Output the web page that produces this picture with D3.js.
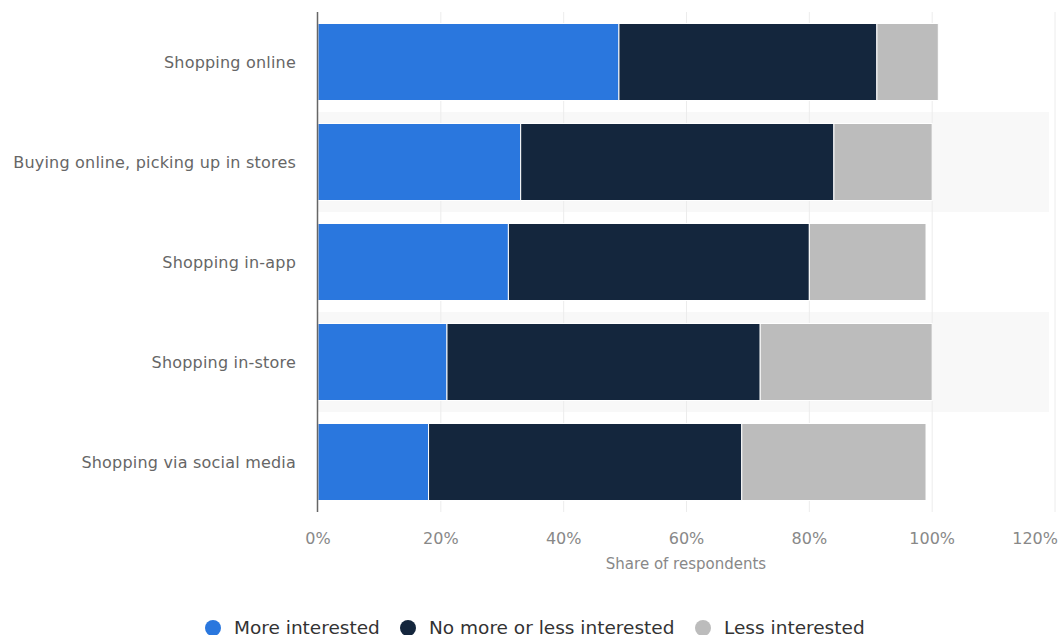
<!DOCTYPE html>
<html><head><meta charset="utf-8">
<script src="https://cdn.jsdelivr.net/npm/d3@7"></script>
<style>html,body{margin:0;padding:0;background:#fff;overflow:hidden}svg{display:block}</style>
</head><body>
<svg id="c" width="1059" height="635"></svg>
<script>
const categories = ["Shopping online","Buying online, picking up in stores","Shopping in-app","Shopping in-store","Shopping via social media"];
const seriesNames = ["More interested","No more or less interested","Less interested"];
const moreInterested = [49,33,31,21,18];
const neutral = [42,51,49,51,51];
const lessInterested = [10,16,19,28,30];
const tickValues = [0,20,40,60,80,100,120];
const colors = ["#2a77de","#14263d","#bcbcbc"];

(function(){
const svg = d3.select("#c");
const font = "'DejaVu Sans', Verdana, sans-serif";
const pLeft = 318, pRight = 1055, pTop = 12, pBottom = 512;
const x = d3.scaleLinear().domain([0,120]).range([pLeft,pRight]);
const y = d3.scaleBand().domain(categories).range([pTop,pBottom]).paddingInner(0.23).paddingOuter(0.115);
const band = d3.scaleBand().domain(categories).range([pTop,pBottom]);

// alternating bands
svg.append("g").selectAll("rect").data(categories.filter((d,i)=>i%2===1)).join("rect")
  .attr("x",pLeft).attr("width",x(120)-pLeft-6).attr("y",d=>band(d)).attr("height",band.bandwidth())
  .attr("fill","#f8f8f8");

// gridlines
svg.append("g").selectAll("line").data(tickValues.slice(1)).join("line")
  .attr("x1",d=>x(d)).attr("x2",d=>x(d)).attr("y1",pTop).attr("y2",pBottom)
  .attr("stroke","#ececec").attr("stroke-width",1);

const rows = categories.map((c,i)=>({cat:c, vals:[moreInterested[i],neutral[i],lessInterested[i]]}));
const stacked = d3.stack().keys([0,1,2]).value((d,k)=>d.vals[k])(rows);

svg.append("g").selectAll("g").data(stacked).join("g").attr("fill",(d,i)=>colors[i])
  .selectAll("rect").data(d=>d).join("rect")
  .attr("x",d=>x(d[0])).attr("width",d=>x(d[1])-x(d[0]))
  .attr("y",d=>y(d.data.cat)).attr("height",y.bandwidth())
  .attr("stroke","#ffffff").attr("stroke-width",1);

// y axis line
svg.append("line").attr("x1",pLeft-0.5).attr("x2",pLeft-0.5).attr("y1",pTop).attr("y2",pBottom)
  .attr("stroke","#666").attr("stroke-width",1.5);

// y labels
svg.append("g").selectAll("text").data(categories).join("text")
  .attr("x",296).attr("y",d=>band(d)+band.bandwidth()/2).attr("dy","0.35em")
  .attr("text-anchor","end").attr("font-family",font).attr("font-size",16).attr("letter-spacing",0.2).attr("fill","#666")
  .text(d=>d);

// x tick labels
svg.append("g").selectAll("text").data(tickValues).join("text")
  .attr("x",(d,i)=>i===tickValues.length-1 ? 1058 : x(d)).attr("y",544)
  .attr("text-anchor",(d,i)=>i===tickValues.length-1 ? "end" : "middle")
  .attr("font-family",font).attr("font-size",16).attr("fill","#888")
  .text(d=>d+"%");

svg.append("text").attr("x",686).attr("y",569).attr("text-anchor","middle")
  .attr("font-family",font).attr("font-size",15).attr("fill","#888").text("Share of respondents");

// legend
const legX = [213, 408, 703];
const lg = svg.append("g").selectAll("g").data(seriesNames).join("g")
  .attr("transform",(d,i)=>`translate(${legX[i]},628)`);
lg.append("circle").attr("r",8).attr("fill",(d,i)=>colors[i]);
lg.append("text").attr("x",21).attr("y",6).attr("font-family",font).attr("font-size",18.5).attr("fill","#333").text(d=>d);
})();
</script>
</body></html>
